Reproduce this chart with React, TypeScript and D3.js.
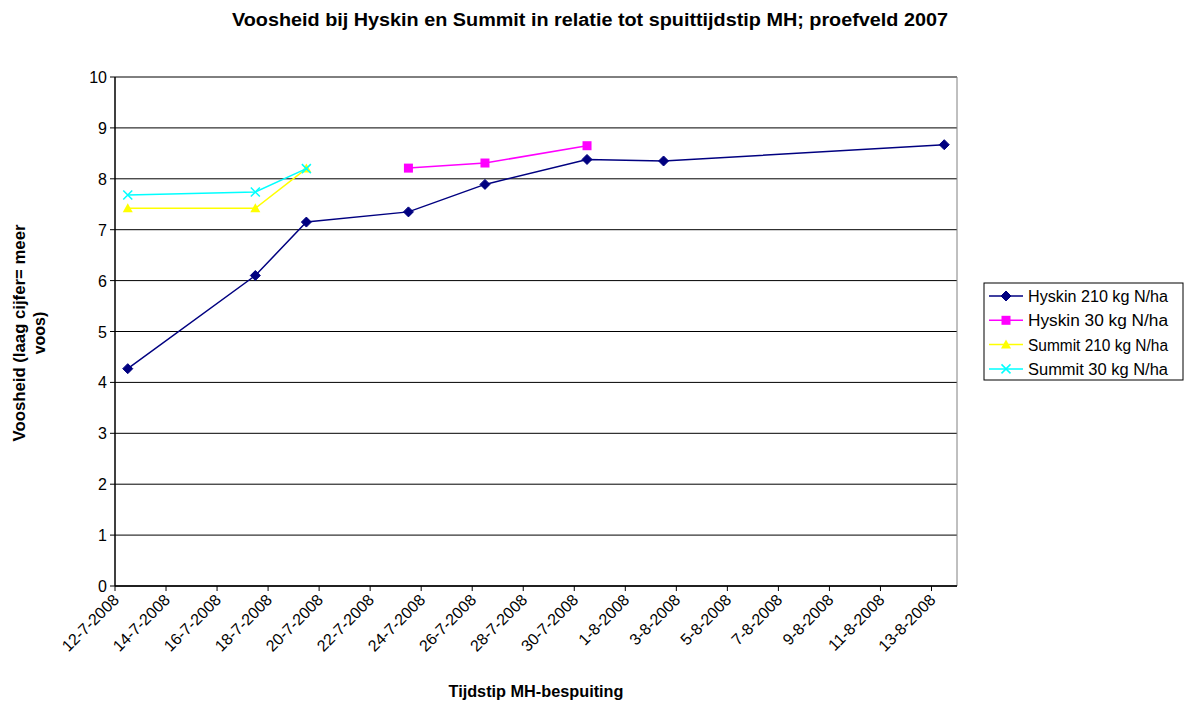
import React from "react";
import * as d3 from "d3";

const seriesNames = ["Hyskin 210 kg N/ha", "Hyskin 30 kg N/ha", "Summit 210 kg N/ha", "Summit 30 kg N/ha"];
const hyskin210Dates = ["2008-07-12", "2008-07-17", "2008-07-19", "2008-07-23", "2008-07-26", "2008-07-30", "2008-08-02", "2008-08-13"];
const hyskin210Values = [4.27, 6.1, 7.15, 7.35, 7.89, 8.38, 8.35, 8.67];
const hyskin30Dates = ["2008-07-23", "2008-07-26", "2008-07-30"];
const hyskin30Values = [8.21, 8.31, 8.65];
const summit210Dates = ["2008-07-12", "2008-07-17", "2008-07-19"];
const summit210Values = [7.42, 7.42, 8.2];
const summit30Dates = ["2008-07-12", "2008-07-17", "2008-07-19"];
const summit30Values = [7.68, 7.74, 8.2];
const yTicks = [0, 1, 2, 3, 4, 5, 6, 7, 8, 9, 10];
const colors = ["#000080", "#FF00FF", "#FFFF00", "#00FFFF"];
const markers = ["diamond", "square", "triangle", "x"];

const parse = (s: string) => {
  const [y, m, d] = s.split("-").map(Number);
  return new Date(y, m - 1, d, 12);
};

const series = [
  { dates: hyskin210Dates, values: hyskin210Values },
  { dates: hyskin30Dates, values: hyskin30Values },
  { dates: summit210Dates, values: summit210Values },
  { dates: summit30Dates, values: summit30Values },
].map((s, i) => ({
  name: seriesNames[i],
  color: colors[i],
  marker: markers[i],
  points: s.dates.map((d, j) => ({ date: parse(d), value: s.values[j] })),
}));

const FONT = "'Liberation Sans', Arial, sans-serif";

function Marker({ type, x, y, color }: { type: string; x: number; y: number; color: string }) {
  if (type === "diamond") {
    return <path d={`M${x},${y - 5}L${x + 5},${y}L${x},${y + 5}L${x - 5},${y}Z`} fill={color} stroke={color} strokeWidth={1} />;
  }
  if (type === "square") {
    return <rect x={x - 4.5} y={y - 4.5} width={9} height={9} fill={color} />;
  }
  if (type === "triangle") {
    return <path d={`M${x},${y - 5}L${x + 5},${y + 4}L${x - 5},${y + 4}Z`} fill={color} />;
  }
  return (
    <path d={`M${x - 4.5},${y - 4.5}L${x + 4.5},${y + 4.5}M${x - 4.5},${y + 4.5}L${x + 4.5},${y - 4.5}`} stroke={color} strokeWidth={1.5} fill="none" />
  );
}

export default function App() {
  const left = 115, right = 957, top = 77, bottom = 586;
  const start = new Date(2008, 6, 12);
  const end = new Date(2008, 7, 14);
  const x = d3.scaleTime().domain([start, end]).range([left, right]);
  const y = d3.scaleLinear().domain([0, 10]).range([bottom, top]);
  const xTicks = d3.timeDay.range(start, end, 2);
  const line = d3
    .line<{ date: Date; value: number }>()
    .x((d) => x(d.date))
    .y((d) => y(d.value));

  const legendX = 984, legendY = 283;

  return (
    <svg width={1188} height={701} style={{ position: "absolute", left: 0, top: 0, background: "#fff" }} fontFamily={FONT}>
      <rect width={1188} height={701} fill="#fff" />
      <text x={590} y={26} textAnchor="middle" fontSize={18} fontWeight="bold" textLength={716} lengthAdjust="spacingAndGlyphs">
        Voosheid bij Hyskin en Summit in relatie tot spuittijdstip MH; proefveld 2007
      </text>

      {yTicks.map((t) => (
        <line key={"g" + t} x1={left} x2={right} y1={y(t)} y2={y(t)} stroke="#000" strokeWidth={1} />
      ))}
      <line x1={right} x2={right} y1={top} y2={bottom} stroke="#808080" strokeWidth={1} />
      <line x1={left} x2={left} y1={top} y2={bottom} stroke="#000" strokeWidth={1.5} />
      <line x1={left} x2={right} y1={bottom} y2={bottom} stroke="#000" strokeWidth={1.5} />

      {yTicks.map((t) => (
        <g key={"y" + t}>
          <line x1={left - 5} x2={left} y1={y(t)} y2={y(t)} stroke="#000" />
          <text x={left - 8} y={y(t) + 6} textAnchor="end" fontSize={16}>
            {t}
          </text>
        </g>
      ))}

      {xTicks.map((t, i) => {
        const tx = x(t);
        const label = `${t.getDate()}-${t.getMonth() + 1}-${t.getFullYear()}`;
        return (
          <g key={"x" + i}>
            <line x1={tx} x2={tx} y1={bottom} y2={bottom + 5} stroke="#000" />
            <text transform={`translate(${tx + 5},${bottom + 15}) rotate(-45)`} textAnchor="end" fontSize={16}>
              {label}
            </text>
          </g>
        );
      })}

      <text x={536} y={697} textAnchor="middle" fontSize={16} fontWeight="bold" textLength={175} lengthAdjust="spacingAndGlyphs">
        Tijdstip MH-bespuiting
      </text>
      <text transform={`translate(25,333) rotate(-90)`} textAnchor="middle" fontSize={16} fontWeight="bold" textLength={217} lengthAdjust="spacingAndGlyphs">
        Voosheid (laag cijfer= meer
      </text>
      <text transform={`translate(45,333) rotate(-90)`} textAnchor="middle" fontSize={16} fontWeight="bold">
        voos)
      </text>

      {series.map((s) => (
        <g key={s.name}>
          <path d={line(s.points) || ""} fill="none" stroke={s.color} strokeWidth={1.5} />
          {s.points.map((p, j) => (
            <Marker key={j} type={s.marker} x={x(p.date)} y={y(p.value)} color={s.color} />
          ))}
        </g>
      ))}

      <rect x={legendX} y={legendY} width={199} height={97} fill="#fff" stroke="#000" strokeWidth={1} />
      {series.map((s, i) => {
        const ly = legendY + 13 + i * 24.3;
        return (
          <g key={"l" + i}>
            <line x1={legendX + 5} x2={legendX + 39} y1={ly} y2={ly} stroke={s.color} strokeWidth={1.5} />
            <Marker type={s.marker} x={legendX + 22} y={ly} color={s.color} />
            <text x={legendX + 44} y={ly + 6} fontSize={16} textLength={140} lengthAdjust="spacingAndGlyphs">
              {s.name}
            </text>
          </g>
        );
      })}
    </svg>
  );
}
